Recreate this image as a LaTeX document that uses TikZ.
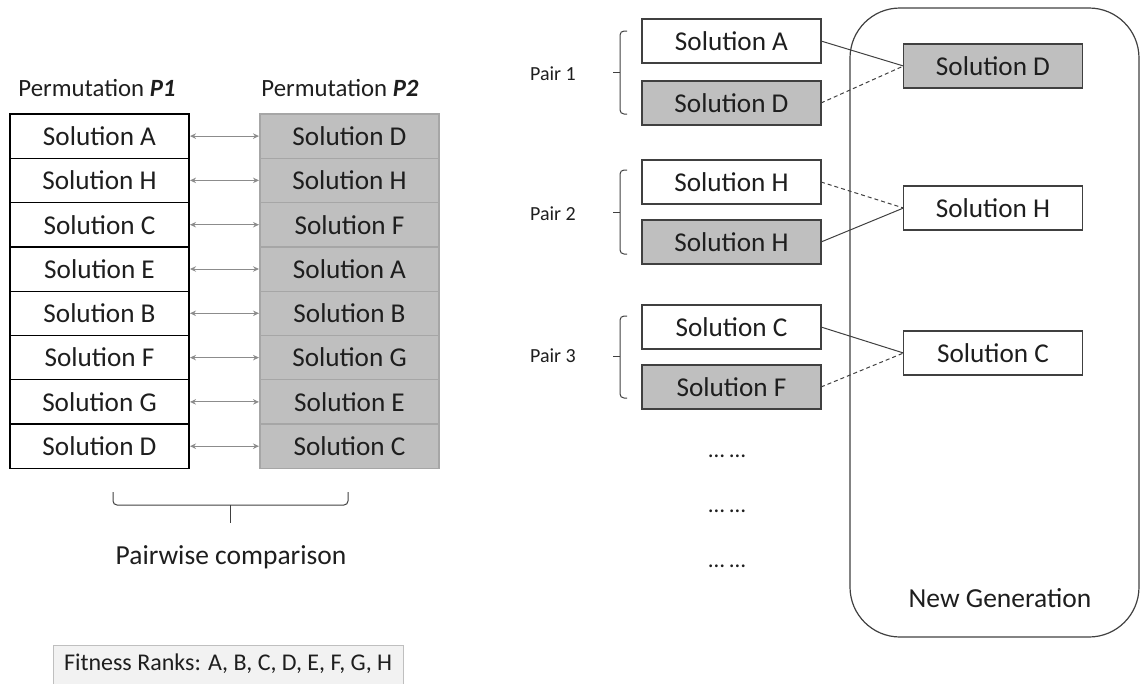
\documentclass[tikz,border=0pt]{standalone}
\usepackage{fontspec}
\setmainfont{Carlito}
\usetikzlibrary{arrows.meta}
\definecolor{cellgray}{HTML}{BFBFBF}
\definecolor{cellline}{HTML}{A6A6A6}
\definecolor{linkgray}{HTML}{404040}
\definecolor{arrgray}{HTML}{8C8C8C}
\definecolor{panel}{HTML}{F2F2F2}
\definecolor{inkcol}{HTML}{1E1E1E}
\begin{document}
\begin{tikzpicture}[x=1pt,y=-1pt,
  every node/.style={text=inkcol, inner sep=0pt, outer sep=0pt},
  celltxt/.style={font=\fontsize{27.2}{30}\selectfont},
  bigtxt/.style={font=\fontsize{27.5}{30}\selectfont},
  midtxt/.style={font=\fontsize{24.8}{28}\selectfont},
  fittxt/.style={font=\fontsize{24}{28}\selectfont},
  smalltxt/.style={font=\fontsize{20}{24}\selectfont},
  dotstxt/.style={font=\fontsize{23}{26}\selectfont},
  whitecell/.style={celltxt, draw=black, line width=1.3pt, fill=white,
    minimum width=179pt, minimum height=44.3pt},
  graycell/.style={celltxt, draw=cellline, line width=1.3pt, fill=cellgray,
    minimum width=179pt, minimum height=44.3pt},
  whitebox/.style={celltxt, draw=linkgray, line width=1.2pt, fill=white,
    minimum width=179pt, minimum height=44pt},
  graybox/.style={celltxt, draw=linkgray, line width=1.2pt, fill=cellgray,
    minimum width=179pt, minimum height=44pt},
  cmp/.style={arrgray, line width=1pt, shorten <=1pt, shorten >=1pt,
    {Stealth[length=6pt,width=5.5pt]}-{Stealth[length=6pt,width=5.5pt]}},
  keep/.style={linkgray, line width=1pt},
  drop/.style={linkgray, line width=1pt, dash pattern=on 4pt off 3pt},
  bracket/.style={linkgray, line width=1pt, rounded corners=4pt}
]
\useasboundingbox (0,0) rectangle (1141,683);

% ---- permutation tables ----
\node[midtxt] (hP1) at (97,88) {Permutation \textbf{\textit{P1}}};
\node[midtxt] (hP2) at (340,88) {Permutation \textbf{\textit{P2}}};

\foreach \i/\l in {0/A,1/H,2/C,3/E,4/B,5/F,6/G,7/D}{
  \node[whitecell] (p\i) at (99.5,{136.1+44.3*\i}) {Solution \l};
}
\foreach \i/\l in {0/D,1/H,2/F,3/A,4/B,5/G,6/E,7/C}{
  \node[graycell] (q\i) at (349.5,{136.1+44.3*\i}) {Solution \l};
}
\foreach \i in {0,...,7}{
  \draw[cmp] (p\i.east) -- (q\i.west);
}

% brace below the tables
\draw[bracket] (113,492) -- (113,505) -- (348,505) -- (348,492);
\draw[linkgray, line width=1pt] (230.5,505) -- (230.5,523);
\node[bigtxt] (pw) at (231,557) {Pairwise comparison};

% fitness ranking panel
\filldraw[fill=panel, draw=cellgray, line width=1pt] (53,645) rectangle (403,700);
\node[fittxt, anchor=west] (fit) at (64,664) {Fitness Ranks: A, B, C, D, E, F, G, H};

% ---- new generation panel ----
\draw[linkgray, line width=1.2pt, rounded corners=50pt] (850,8) rectangle (1139,637);
\node[bigtxt] (ng) at (1000,598) {New Generation};

% pairs
\node[whitebox] (a1) at (731.5,41) {Solution A};
\node[graybox]  (b1) at (731.5,103) {Solution D};
\node[whitebox] (a2) at (731.5,182) {Solution H};
\node[graybox]  (b2) at (731.5,242) {Solution H};
\node[whitebox] (a3) at (731.5,327) {Solution C};
\node[graybox]  (b3) at (731.5,387) {Solution F};

\node[smalltxt] (l1) at (553,74) {Pair 1};
\node[smalltxt] (l2) at (553,214) {Pair 2};
\node[smalltxt] (l3) at (553,356) {Pair 3};

\foreach \t/\m/\b in {31/72/114, 170/212/254, 316/356/398}{
  \draw[bracket] (627,\t) -- (620,\t) -- (620,\b) -- (627,\b);
  \draw[linkgray, line width=1pt] (620,\m) -- (613,\m);
}

% winners
\node[graybox]  (w1) at (993,66) {Solution D};
\node[whitebox] (w2) at (993,208) {Solution H};
\node[whitebox] (w3) at (993,353) {Solution C};

\draw[keep] (a1.east) -- (w1.west);
\draw[drop] (b1.east) -- (w1.west);
\draw[drop] (a2.east) -- (w2.west);
\draw[keep] (b2.east) -- (w2.west);
\draw[keep] (a3.east) -- (w3.west);
\draw[drop] (b3.east) -- (w3.west);

% further pairs
\node[dotstxt] (d1) at (727,456) {… …};
\node[dotstxt] (d2) at (727,511) {… …};
\node[dotstxt] (d3) at (727,566) {… …};
\end{tikzpicture}
\end{document}
